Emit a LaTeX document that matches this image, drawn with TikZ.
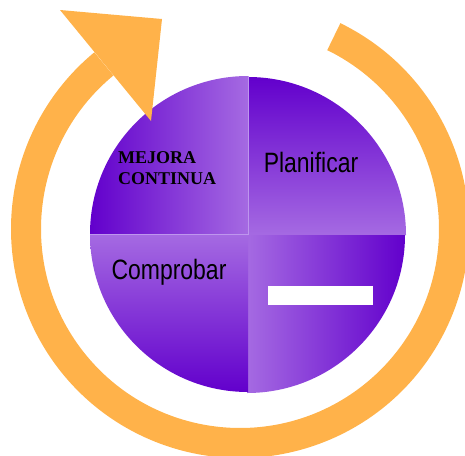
\documentclass[tikz,border=0pt]{standalone}
\usepackage{fontspec}
\setmainfont{Liberation Serif}
\newfontfamily\narrowfont[FakeStretch=0.82]{Liberation Sans}
\usetikzlibrary{calc}
\definecolor{ringc}{RGB}{255,178,74}
\definecolor{darkp}{RGB}{98,0,204}
\definecolor{lightp}{RGB}{165,106,226}
\definecolor{borderp}{RGB}{190,150,238}
\tikzset{
  quadlabel/.style={font=\narrowfont\fontsize{28}{30}\selectfont, text=black, inner sep=0pt, anchor=base},
  mejlabel/.style={font=\bfseries\fontsize{18}{20}\selectfont, text=black, inner sep=0pt, anchor=base west},
}
\begin{document}
\begin{tikzpicture}[x=1pt,y=1pt]
\useasboundingbox (0,0) rectangle (465,-455);
% pie quadrants
\shade[left color=darkp, right color=lightp] (248,-234) -- (90,-234) arc[start angle=180,end angle=90,radius=158] -- cycle;
\shade[top color=darkp, bottom color=lightp] (248,-235) -- (248,-77) arc[start angle=90,end angle=0,radius=158] -- cycle;
\shade[left color=lightp, right color=darkp] (247,-235) -- (405,-235) arc[start angle=0,end angle=-90,radius=158] -- cycle;
\shade[top color=lightp, bottom color=darkp] (248,-234) -- (248,-392) arc[start angle=-90,end angle=-180,radius=158] -- cycle;
\draw[borderp, line width=0.7pt] (90,-234) -- (248,-234) -- (248,-76);
% ring arrow
\coordinate (C) at (240,-229);
\fill[ringc] ($(C)+(64:229)$) arc[start angle=64,end angle=-230.5,radius=229]
  -- ($(C)+(-230.5:199)$) arc[start angle=-230.5,end angle=64,radius=199] -- cycle;
\fill[ringc] (60,-10) -- (162,-19) -- (151,-121) -- cycle;
% labels
\node[quadlabel] (plan) at (311,-172) {Planificar};
\node[quadlabel] (comp) at (169,-279) {Comprobar};
\node[mejlabel] (mej) at (118,-163) {MEJORA};
\node[mejlabel] (cont) at (118,-184) {CONTINUA};
\node[fill=white, minimum width=105pt, minimum height=19pt, inner sep=0pt] (blank) at (320.5,-295.5) {};
\end{tikzpicture}
\end{document}
